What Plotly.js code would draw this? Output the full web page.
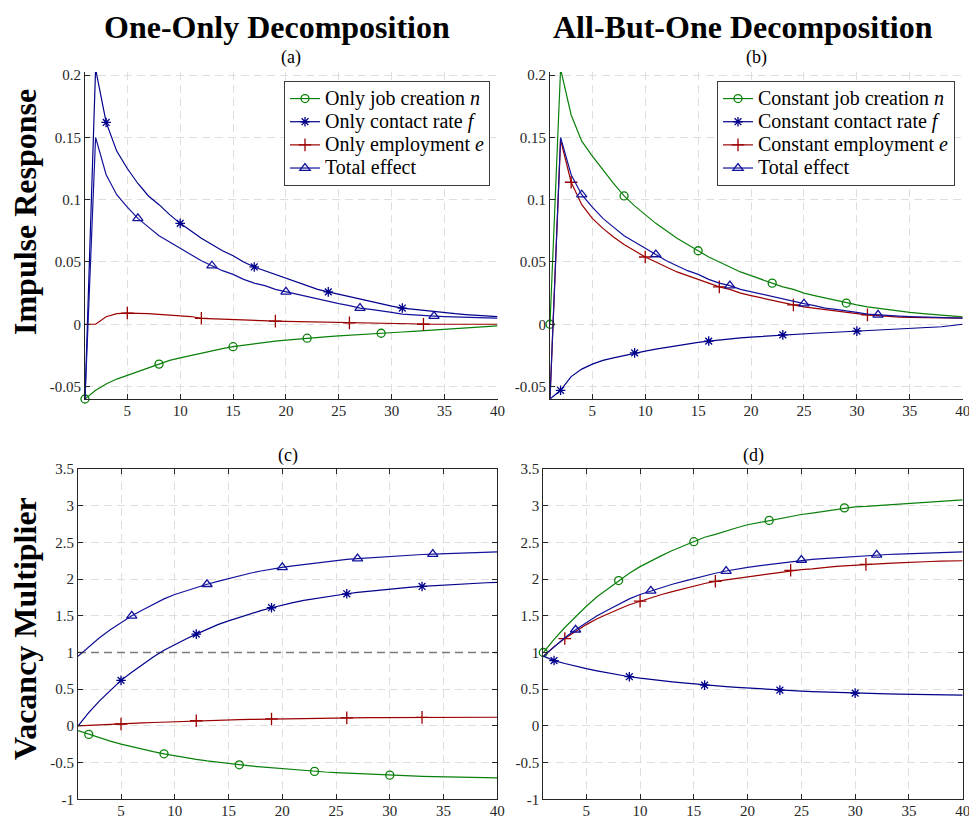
<!DOCTYPE html>
<html>
<head>
<meta charset="utf-8">
<script src="https://cdn.plot.ly/plotly-3.0.1.min.js"></script>
<style>html,body{margin:0;padding:0;background:#fff;}#chart{width:969px;height:819px;}</style>
</head>
<body>
<div id="chart"></div>
<script>
// ---------- data ----------
const periods = [1,2,3,4,5,6,7,8,9,10,11,12,13,14,15,16,17,18,19,20,21,22,23,24,25,26,27,28,29,30,31,32,33,34,35,36,37,38,39,40];

// Panel (a) One-Only, impulse response
const a_n = [-0.060,-0.053,-0.048,-0.044,-0.041,-0.038,-0.035,-0.032,-0.029,-0.027,-0.025,-0.023,-0.021,-0.0195,-0.018,-0.0168,-0.0157,-0.0146,-0.0136,-0.0127,-0.0119,-0.0112,-0.0105,-0.0099,-0.0093,-0.0087,-0.0082,-0.0077,-0.0072,-0.0067,-0.0062,-0.0057,-0.0052,-0.0047,-0.0042,-0.0036,-0.0030,-0.0025,-0.0019,-0.0013];
const a_f = [-0.060,0.205,0.162,0.139,0.125,0.113,0.103,0.096,0.088,0.081,0.075,0.069,0.064,0.059,0.055,0.050,0.046,0.043,0.040,0.037,0.034,0.031,0.028,0.026,0.024,0.022,0.020,0.018,0.016,0.0145,0.013,0.012,0.011,0.010,0.0092,0.0085,0.0078,0.0072,0.0067,0.0062];
const a_e = [0,0,0.006,0.0085,0.009,0.009,0.0085,0.008,0.0074,0.0068,0.0062,0.0048,0.0044,0.0041,0.0038,0.0035,0.0032,0.0028,0.0025,0.0023,0.0021,0.0019,0.0017,0.0015,0.0013,0.0011,0.0010,0.0009,0.0008,0.0007,0,0,0,0,0,0,0,0,0,0];
const ir_total = [-0.060,0.150,0.120,0.104,0.094,0.085,0.078,0.071,0.066,0.061,0.056,0.051,0.047,0.043,0.040,0.036,0.033,0.031,0.028,0.026,0.024,0.022,0.020,0.018,0.0165,0.015,0.013,0.012,0.011,0.0095,0.0082,0.0075,0.0070,0.0066,0.0062,0.0058,0.0055,0.0053,0.0051,0.0050];

// Panel (b) All-But-One, impulse response
const b_n = [0,0.205,0.168,0.147,0.135,0.124,0.113,0.103,0.095,0.088,0.081,0.075,0.069,0.064,0.059,0.054,0.050,0.046,0.042,0.039,0.036,0.033,0.030,0.028,0.025,0.023,0.021,0.019,0.017,0.0155,0.014,0.0128,0.0116,0.0105,0.0096,0.0088,0.0080,0.0073,0.0066,0.0060];
const b_f = [-0.060,-0.053,-0.042,-0.036,-0.032,-0.029,-0.027,-0.025,-0.023,-0.0215,-0.020,-0.0185,-0.017,-0.0158,-0.0146,-0.0135,-0.0125,-0.0117,-0.0110,-0.0103,-0.0097,-0.0091,-0.0085,-0.0080,-0.0076,-0.0072,-0.0068,-0.0064,-0.0060,-0.0055,-0.0052,-0.0048,-0.0044,-0.0040,-0.0036,-0.0031,-0.0026,-0.0020,-0.0010,0];
const b_e = [-0.060,0.148,0.114,0.096,0.085,0.077,0.070,0.064,0.059,0.054,0.050,0.046,0.042,0.039,0.036,0.033,0.030,0.028,0.025,0.023,0.021,0.019,0.017,0.0155,0.014,0.0128,0.0116,0.0105,0.0095,0.0085,0.0075,0.0068,0.0062,0.0058,0.0055,0.0053,0.0052,0.0051,0.0050,0.0050];

// Panel (c) One-Only, vacancy multiplier
const c_n = [-0.065,-0.116,-0.164,-0.208,-0.248,-0.285,-0.320,-0.351,-0.380,-0.407,-0.432,-0.455,-0.476,-0.495,-0.513,-0.530,-0.545,-0.559,-0.572,-0.585,-0.596,-0.606,-0.620,-0.628,-0.636,-0.644,-0.651,-0.658,-0.665,-0.671,-0.677,-0.682,-0.687,-0.691,-0.695,-0.698,-0.701,-0.704,-0.706,-0.708];
const c_f = [0,0.18,0.34,0.48,0.62,0.73,0.84,0.94,1.03,1.11,1.18,1.25,1.32,1.38,1.43,1.48,1.52,1.57,1.61,1.65,1.68,1.71,1.735,1.76,1.78,1.80,1.82,1.835,1.85,1.87,1.88,1.89,1.90,1.91,1.92,1.93,1.935,1.94,1.95,1.955];
const c_e = [0,0.005,0.012,0.019,0.026,0.033,0.040,0.046,0.052,0.058,0.064,0.070,0.074,0.078,0.082,0.086,0.089,0.092,0.095,0.098,0.100,0.102,0.104,0.106,0.108,0.110,0.111,0.112,0.113,0.114,0.115,0.115,0.116,0.116,0.117,0.117,0.117,0.118,0.118,0.118];
const vm_total = [0.95,1.08,1.20,1.31,1.41,1.50,1.58,1.66,1.73,1.79,1.84,1.89,1.93,1.97,2.01,2.05,2.08,2.11,2.14,2.16,2.18,2.20,2.22,2.24,2.26,2.27,2.28,2.29,2.30,2.31,2.32,2.33,2.335,2.34,2.345,2.35,2.355,2.36,2.365,2.37];

// Panel (d) All-But-One, vacancy multiplier
const d_n = [1.00,1.18,1.34,1.49,1.63,1.76,1.87,1.98,2.08,2.17,2.25,2.32,2.39,2.45,2.51,2.57,2.61,2.66,2.70,2.74,2.77,2.80,2.83,2.86,2.88,2.90,2.92,2.94,2.97,2.985,2.99,3.00,3.02,3.03,3.04,3.05,3.06,3.06,3.07,3.08];
const d_f = [0.95,0.89,0.85,0.81,0.78,0.75,0.72,0.695,0.67,0.65,0.63,0.615,0.60,0.585,0.57,0.555,0.545,0.535,0.525,0.515,0.505,0.495,0.487,0.48,0.473,0.467,0.461,0.456,0.451,0.446,0.442,0.438,0.435,0.432,0.429,0.426,0.424,0.422,0.42,0.418];
const d_e = [0.95,1.08,1.19,1.29,1.38,1.46,1.53,1.59,1.65,1.70,1.75,1.79,1.83,1.87,1.90,1.94,1.97,1.99,2.02,2.04,2.06,2.08,2.10,2.12,2.13,2.14,2.16,2.17,2.18,2.19,2.20,2.21,2.215,2.22,2.23,2.235,2.24,2.245,2.25,2.25];

// Labels
const legendA = ['Only job creation <i>n</i>','Only contact rate <i>f</i>','Only employment <i>e</i>','Total effect'];
const legendB = ['Constant job creation <i>n</i>','Constant contact rate <i>f</i>','Constant employment <i>e</i>','Total effect'];
const xTicks = [5,10,15,20,25,30,35,40];
const irTickVals = [-0.05,0,0.05,0.1,0.15,0.2];
const irTickText = ['-0.05','0','0.05','0.1','0.15','0.2'];
const vmTickVals = [-1,-0.5,0,0.5,1,1.5,2,2.5,3,3.5];
const vmTickText = ['-1','-0.5','0','0.5','1','1.5','2','2.5','3','3.5'];
const refLevel = [1];

// ---------- styles ----------
const GREEN = '#0a800a', NAVY = '#00008b', RED = '#9b0000', TOTAL = '#12129a';
const SER = 'Liberation Serif, Times New Roman, serif';
const styles = {
  n: {color: GREEN, symbol: 'circle-open', size: 8},
  f: {color: NAVY, symbol: 'asterisk-open', size: 8},
  e: {color: RED, symbol: 'cross-thin-open', size: 9},
  t: {color: TOTAL, symbol: 'triangle-up-open', size: 9}
};

const traces = [];
function addSeries(xa, ya, y, key, start) {
  const s = styles[key];
  traces.push({x: periods, y: y, xaxis: xa, yaxis: ya, mode: 'lines',
    line: {color: s.color, width: 1.2}, showlegend: false, hoverinfo: 'skip'});
  const idx = [];
  for (let i = start - 1, k = 0; i < periods.length && k < 5; i += 7, k++) idx.push(i);
  traces.push({x: idx.map(i => periods[i]), y: idx.map(i => y[i]), xaxis: xa, yaxis: ya,
    mode: 'markers', cliponaxis: false, showlegend: false, hoverinfo: 'skip',
    marker: {symbol: s.symbol, size: s.size, color: s.color, line: {color: s.color, width: 1.3}}});
}
function addLegend(xa, ya, key, name, legendId) {
  const s = styles[key];
  traces.push({x: [null], y: [null], xaxis: xa, yaxis: ya, mode: 'lines+markers',
    name: '<span style="font-size:20px">' + name + '</span>',
    legend: legendId, line: {color: s.color, width: 1.2},
    marker: {symbol: s.symbol, size: s.size, color: s.color, line: {color: s.color, width: 1.3}}});
}

// reference level line in (c), drawn first so curves sit on top
traces.push({x: [periods[0], periods[periods.length - 1]], y: [refLevel[0], refLevel[0]], xaxis: 'x3', yaxis: 'y3',
  mode: 'lines', line: {color: '#7a7a7a', width: 1.3, dash: '8px,5px'}, showlegend: false, hoverinfo: 'skip'});

// (a)
addSeries('x','y',a_n,'n',1); addSeries('x','y',a_f,'f',3); addSeries('x','y',a_e,'e',5); addSeries('x','y',ir_total,'t',6);
// (b)
addSeries('x2','y2',b_n,'n',1); addSeries('x2','y2',b_f,'f',2); addSeries('x2','y2',b_e,'e',3); addSeries('x2','y2',ir_total,'t',4);
// (c)
addSeries('x3','y3',c_n,'n',2); addSeries('x3','y3',c_f,'f',5); addSeries('x3','y3',c_e,'e',5); addSeries('x3','y3',vm_total,'t',6);
// (d)
addSeries('x4','y4',d_n,'n',1); addSeries('x4','y4',d_f,'f',2); addSeries('x4','y4',d_e,'e',3); addSeries('x4','y4',vm_total,'t',4);
// legends
['n','f','e','t'].forEach((k,i) => addLegend('x','y',k,legendA[i],'legend'));
['n','f','e','t'].forEach((k,i) => addLegend('x2','y2',k,legendB[i],'legend2'));

const W = 969, H = 819;
const px = v => v / W, py = v => 1 - v / H;

function xaxis(d0, d1, anchor) {
  return {domain: [px(d0), px(d1)], anchor: anchor, range: [1, 40], tickvals: xTicks,
    showgrid: true, gridcolor: '#dedede', griddash: '8px,5px', gridwidth: 1, zeroline: false,
    showline: true, linecolor: '#262626', linewidth: 1, ticks: 'inside', ticklen: 5, tickcolor: '#262626',
    ticklabeloverflow: 'allow', ticklabelstandoff: -2,
    tickfont: {family: SER, size: 15, color: '#262626'}, fixedrange: true};
}
function yaxis(top, bot, anchor, range, tv, tt) {
  return {domain: [py(bot), py(top)], anchor: anchor, range: range, tickvals: tv, ticktext: tt,
    showgrid: true, gridcolor: '#dedede', griddash: '8px,5px', gridwidth: 1, zeroline: false,
    showline: true, linecolor: '#262626', linewidth: 1, ticks: 'inside', ticklen: 5, tickcolor: '#262626',
    ticklabeloverflow: 'allow',
    tickfont: {family: SER, size: 15, color: '#262626'}, fixedrange: true};
}

const xa = xaxis(85, 497.5, 'y'), xb = xaxis(550, 962.7, 'y2');
const xc = xaxis(78, 497.3, 'y3'), xd = xaxis(543.3, 962.7, 'y4');
xc.mirror = 'ticks'; xd.mirror = 'ticks';
const ya = yaxis(72, 399, 'x', [-0.06, 0.2025], irTickVals, irTickText);
const yb = yaxis(72, 399, 'x2', [-0.06, 0.2025], irTickVals, irTickText);
const yc = yaxis(469, 799.3, 'x3', [-1, 3.5], vmTickVals, vmTickText);
const yd = yaxis(469, 799.3, 'x4', [-1, 3.5], vmTickVals, vmTickText);
yc.mirror = 'ticks'; yd.mirror = 'ticks';

const legendStyle = (xr, ytop) => ({x: px(xr), y: py(ytop), xanchor: 'right', yanchor: 'top',
  bgcolor: '#ffffff', bordercolor: '#3c3c3c', borderwidth: 1,
  font: {family: SER, size: 15.5, color: '#000'}, itemwidth: 30, tracegroupgap: 0});

const ann = (text, x, y, size, bold, angle) => ({text: bold ? '<b>' + text + '</b>' : text,
  x: px(x), y: py(y), xref: 'paper', yref: 'paper', xanchor: 'center', yanchor: 'middle',
  showarrow: false, textangle: angle || 0, font: {family: SER, size: size, color: '#000'}});

const layout = {
  width: W, height: H, margin: {l: 0, r: 0, t: 0, b: 0},
  paper_bgcolor: '#fff', plot_bgcolor: '#fff',
  xaxis: xa, yaxis: ya, xaxis2: xb, yaxis2: yb, xaxis3: xc, yaxis3: yc, xaxis4: xd, yaxis4: yd,
  legend: legendStyle(490, 81), legend2: legendStyle(955, 81),
  annotations: [
    ann('One-Only Decomposition', 277, 27, 32, true),
    ann('All-But-One Decomposition', 742.7, 27, 32, true),
    ann('(a)', 291, 58, 18), ann('(b)', 756, 58, 18),
    ann('(c)', 287.7, 455, 18), ann('(d)', 753, 455, 18),
    ann('Impulse Response', 25, 212, 32, true, -90),
    ann('Vacancy Multiplier', 25, 629, 32, true, -90)
  ]
};

Plotly.newPlot('chart', traces, layout, {staticPlot: true});
</script>
</body>
</html>
